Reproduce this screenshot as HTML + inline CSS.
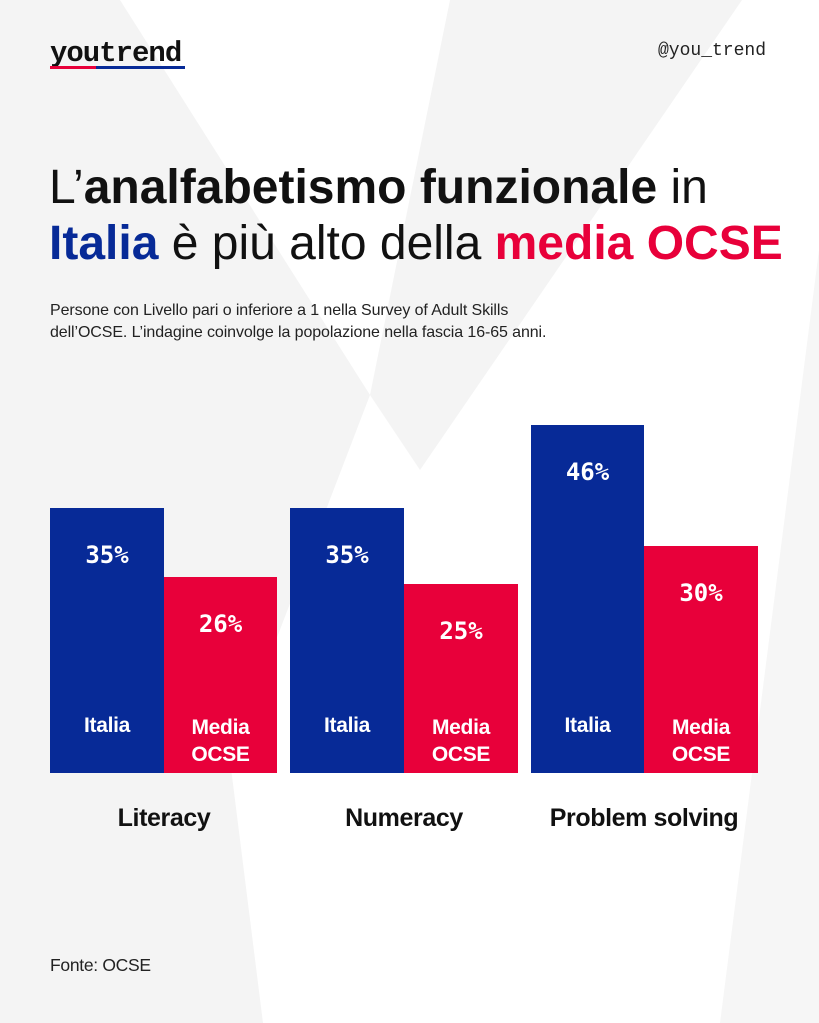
<!DOCTYPE html>
<html><head><meta charset="utf-8"><style>
body{margin:0;width:819px;height:1023px;position:relative;overflow:hidden;background:#fff;font-family:"Liberation Sans",sans-serif;}
.a{position:absolute;white-space:nowrap}
.bar{position:absolute}
.pct{position:absolute;width:100%;text-align:center;color:#fff;font:bold 24px "DejaVu Sans Mono","Liberation Mono",monospace;letter-spacing:0px}
.lab{position:absolute;width:100%;text-align:center;color:#fff;font-weight:bold;font-size:21px;line-height:27px;letter-spacing:-0.3px}
.cat{position:absolute;width:240px;text-align:center;font-weight:bold;font-size:25px;color:#111;letter-spacing:-0.4px}
</style></head><body>
<svg class="a" style="left:0;top:0" width="819" height="1023">
<polygon points="0,0 120,0 370,395 230,760 263,1023 0,1023" fill="#f4f4f4"/>
<polygon points="450,0 742,0 420,470 370,395" fill="#f4f4f4"/>
<polygon points="819,250 819,1023 720,1023" fill="#f6f6f6"/>
</svg>
<div class="a" style="left:50px;top:37px;font:bold 29px 'Liberation Mono',monospace;color:#111;letter-spacing:-1px">youtrend</div>
<div class="a" style="left:50px;top:66px;width:46px;height:3px;background:#e8003a"></div>
<div class="a" style="left:96px;top:66px;width:89px;height:3px;background:#072a97"></div>
<div class="a" style="left:658px;top:41px;font:18px 'Liberation Mono',monospace;color:#222">@you_trend</div>
<div class="a" style="left:49px;top:160px;font-size:48px;line-height:56px;color:#111;letter-spacing:0px">L’<b>analfabetismo funzionale</b> in<br><b style="color:#072a97">Italia</b> è più alto della <b style="color:#e8003a">media OCSE</b></div>
<div class="a" style="left:50px;top:300px;font-size:16px;line-height:22px;color:#222;letter-spacing:-0.1px">Persone con Livello pari o inferiore a 1 nella Survey of Adult Skills<br>dell’OCSE. L’indagine coinvolge la popolazione nella fascia 16-65 anni.</div>

<div class="bar" style="left:50px;top:508px;width:114px;height:265px;background:#072a97"><div class="pct" style="top:33px">35%</div><div class="lab" style="top:204px">Italia</div></div>
<div class="bar" style="left:164px;top:577px;width:113px;height:196px;background:#e8003a"><div class="pct" style="top:33px">26%</div><div class="lab" style="top:137px">Media<br>OCSE</div></div>
<div class="bar" style="left:290px;top:508px;width:114px;height:265px;background:#072a97"><div class="pct" style="top:33px">35%</div><div class="lab" style="top:204px">Italia</div></div>
<div class="bar" style="left:404px;top:584px;width:114px;height:189px;background:#e8003a"><div class="pct" style="top:33px">25%</div><div class="lab" style="top:130px">Media<br>OCSE</div></div>
<div class="bar" style="left:531px;top:425px;width:113px;height:348px;background:#072a97"><div class="pct" style="top:33px">46%</div><div class="lab" style="top:287px">Italia</div></div>
<div class="bar" style="left:644px;top:546px;width:114px;height:227px;background:#e8003a"><div class="pct" style="top:33px">30%</div><div class="lab" style="top:168px">Media<br>OCSE</div></div>

<div class="cat" style="left:44px;top:804px">Literacy</div>
<div class="cat" style="left:284px;top:804px">Numeracy</div>
<div class="cat" style="left:524px;top:804px">Problem solving</div>
<div class="a" style="left:50px;top:955px;font-size:17.5px;color:#222;letter-spacing:-0.3px">Fonte: OCSE</div>
</body></html>
